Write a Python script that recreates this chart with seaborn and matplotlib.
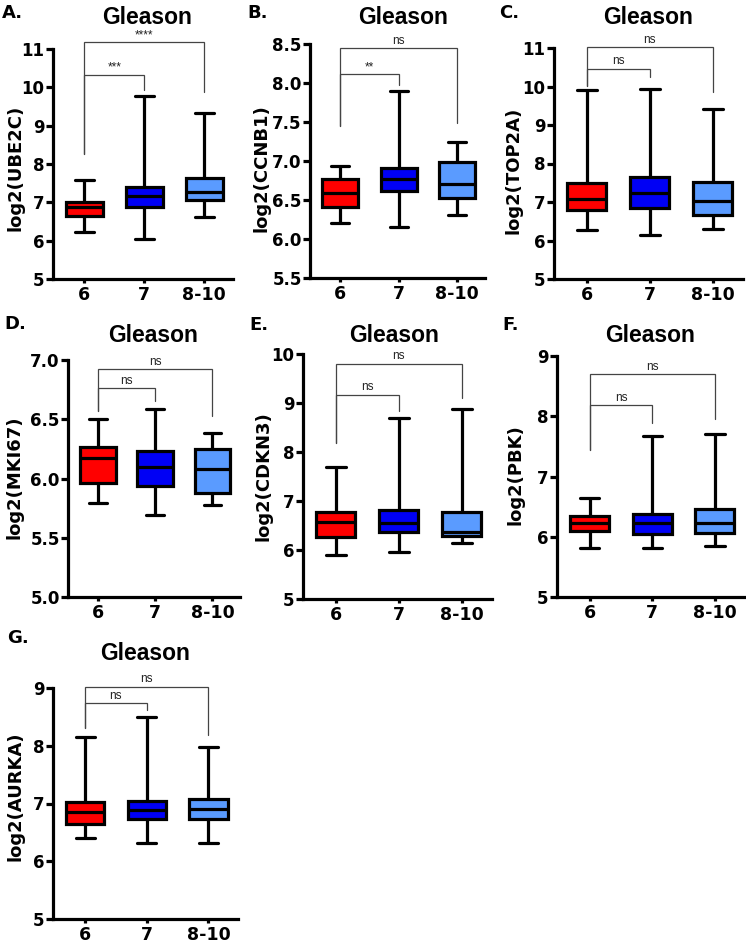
import numpy as np
import pandas as pd
import matplotlib
matplotlib.use("Agg")
import matplotlib.pyplot as plt
import seaborn as sns

# box stats per grade: [min, q1, median, q3, max]
grades = ["6", "7", "8-10"]
box_colors = ["#FF0000", "#0000F5", "#5A9BFF"]

ube2c = [[6.23, 6.65, 6.88, 7.02, 7.59],
         [6.05, 6.88, 7.17, 7.40, 9.78],
         [6.63, 7.06, 7.26, 7.63, 9.34]]
ccnb1 = [[6.21, 6.41, 6.59, 6.77, 6.93],
         [6.16, 6.61, 6.77, 6.91, 7.90],
         [6.31, 6.52, 6.71, 6.99, 7.25]]
top2a = [[6.26, 6.80, 7.08, 7.50, 9.92],
         [6.15, 6.84, 7.23, 7.65, 9.93],
         [6.30, 6.66, 7.03, 7.52, 9.41]]
mki67 = [[5.79, 5.96, 6.17, 6.27, 6.50],
         [5.69, 5.94, 6.10, 6.23, 6.59],
         [5.78, 5.88, 6.08, 6.25, 6.38]]
cdkn3 = [[5.89, 6.26, 6.57, 6.78, 7.69],
         [5.96, 6.37, 6.56, 6.82, 8.69],
         [6.15, 6.29, 6.37, 6.78, 8.88]]
pbk = [[5.82, 6.09, 6.23, 6.34, 6.64],
       [5.81, 6.05, 6.23, 6.37, 7.68],
       [5.85, 6.06, 6.22, 6.46, 7.71]]
aurka = [[6.40, 6.64, 6.86, 7.02, 8.16],
         [6.31, 6.73, 6.89, 7.05, 8.49],
         [6.32, 6.74, 6.90, 7.07, 7.97]]

# significance labels: (6 vs 7, 6 vs 8-10)
ube2c_sig = ["***", "****"]
ccnb1_sig = ["**", "ns"]
top2a_sig = ["ns", "ns"]
mki67_sig = ["ns", "ns"]
cdkn3_sig = ["ns", "ns"]
pbk_sig = ["ns", "ns"]
aurka_sig = ["ns", "ns"]

sns.set_style("ticks")
plt.rcParams["font.family"] = ["DejaVu Sans"]
for key in ["text.color", "axes.labelcolor", "xtick.color", "ytick.color",
            "axes.edgecolor"]:
    plt.rcParams[key] = "black"

W, H = 746, 944
fig = plt.figure(figsize=(W / 100, H / 100), dpi=100)


def px_rect(left, top, right, bottom):
    return [left / W, 1 - bottom / H, (right - left) / W, (bottom - top) / H]


def draw_panel(rect, stats, gene, sig, ylim, step, fmt, brackets,
               letter_xy, title_xy, ylab_xy, letter):
    ax = fig.add_axes(px_rect(*rect))
    df = pd.DataFrame({
        "grade": np.repeat(grades, 5),
        "value": np.concatenate(stats),
    })
    sns.boxplot(data=df, x="grade", y="value", hue="grade", order=grades,
                hue_order=grades, palette=box_colors, saturation=1,
                whis=(0, 100), width=0.62, linewidth=2.3, linecolor="black",
                legend=False, ax=ax)
    ax.set_xlim(-0.52, 2.48)
    ax.set_ylim(*ylim)
    ax.set_yticks(np.arange(ylim[0], ylim[1] + step / 2, step))
    ax.set_yticklabels([fmt.format(v) for v in ax.get_yticks()])
    ax.set_xlabel("")
    ax.set_ylabel("")
    sns.despine(ax=ax)
    for sp in ["left", "bottom"]:
        ax.spines[sp].set_linewidth(2.3)
    ax.tick_params(axis="y", length=5, width=2.3, labelsize=12, pad=1)
    ax.tick_params(axis="x", length=3, width=2.3, labelsize=12.5, pad=2)
    for t in ax.get_xticklabels() + ax.get_yticklabels():
        t.set_fontweight("bold")

    # comparison brackets: (j, top, left_bottom, right_bottom)
    for label, (j, top, lb, rb) in zip(sig, brackets):
        ax.plot([0, 0, j, j], [lb, top, top, rb], color="#444444",
                lw=0.9, clip_on=False, solid_joinstyle="miter")
        ax.annotate(label, (j / 2, top), xytext=(0, 1),
                    textcoords="offset points", ha="center", va="bottom",
                    fontsize=8.5, color="#222222", family="Liberation Sans",
                    annotation_clip=False)

    fig.text(letter_xy[0] / W, 1 - letter_xy[1] / H, letter + ".",
             fontsize=13, fontweight="heavy", ha="left", va="center")
    fig.text(title_xy[0] / W, 1 - title_xy[1] / H, "Gleason",
             fontsize=16.5, fontweight="bold", family="Liberation Sans",
             ha="center", va="center")
    fig.text(ylab_xy[0] / W, 1 - ylab_xy[1] / H, f"log2({gene})",
             fontsize=13, fontweight="bold", ha="center", va="center",
             rotation=90)
    return ax


draw_panel((53, 49, 233, 279), ube2c, "UBE2C", ube2c_sig, (5, 11), 1, "{:.0f}",
           [(1, 10.33, 8.27, 9.93), (2, 11.17, 8.27, 9.89)],
           (2, 13), (147, 18), (16, 168), "A")
draw_panel((310, 44, 485, 278), ccnb1, "CCNB1", ccnb1_sig, (5.5, 8.5), 0.5, "{:.1f}",
           [(1, 8.11, 7.45, 7.98), (2, 8.45, 7.45, 7.49)],
           (247, 13), (403, 18), (261, 168), "B")
draw_panel((554, 48, 743, 279), top2a, "TOP2A", top2a_sig, (5, 11), 1, "{:.0f}",
           [(1, 10.46, 10.02, 10.25), (2, 11.02, 10.02, 9.85)],
           (499, 13), (648, 17), (513, 170), "C")
draw_panel((68, 360, 240, 597), mki67, "MKI67", mki67_sig, (5.0, 7.0), 0.5, "{:.1f}",
           [(1, 6.76, 6.57, 6.65), (2, 6.92, 6.57, 6.53)],
           (4, 324), (153, 335), (15, 477), "D")
draw_panel((303, 354, 492, 599), cdkn3, "CDKN3", cdkn3_sig, (5, 10), 1, "{:.0f}",
           [(1, 9.17, 8.18, 8.83), (2, 9.80, 8.18, 9.10)],
           (249, 325), (394, 335), (264, 476), "E")
draw_panel((557, 356, 745, 597), pbk, "PBK", pbk_sig, (5, 9), 1, "{:.0f}",
           [(1, 8.18, 7.44, 7.89), (2, 8.70, 7.44, 7.96)],
           (502, 325), (650, 336), (516, 475), "F")
draw_panel((53, 688, 238, 919), aurka, "AURKA", aurka_sig, (5, 9), 1, "{:.0f}",
           [(1, 8.74, 8.31, 8.62), (2, 9.02, 8.31, 8.19)],
           (7, 638), (145, 653), (16, 796), "G")

fig.savefig("out.png", dpi=100)
